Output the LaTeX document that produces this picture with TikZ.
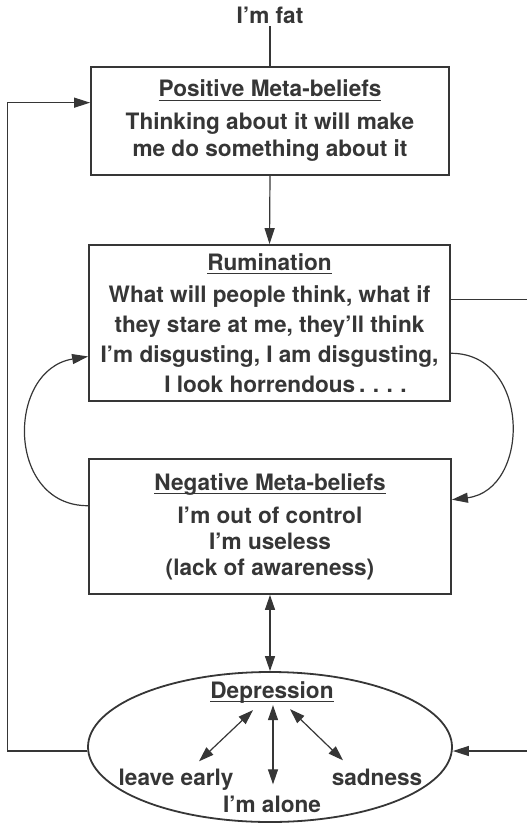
\documentclass[tikz,border=0pt]{standalone}
\usepackage{fontspec}
\setmainfont{TeX Gyre Heros}
\usetikzlibrary{arrows.meta,shapes.geometric,calc}
\definecolor{ink}{HTML}{363636}
% underlined heading: fixed-depth rule under the text
\newlength{\ulinewd}
\newcommand{\ulhead}[1]{\settowidth{\ulinewd}{#1}\rlap{\rule[-3.8pt]{\ulinewd}{1.1pt}}#1}
\begin{document}
\begin{tikzpicture}[x=1pt,y=-1pt,
  every node/.style={text=ink,font=\bfseries\fontsize{22.6}{27}\selectfont},
  box/.style={draw=ink,line width=1.8pt,rectangle,inner sep=0pt,align=center},
  label/.style={inner sep=2pt,anchor=base},
  link/.style={draw=ink,line width=1.2pt},
  tip/.style={-{Triangle[length=16pt,width=10pt]}},
  dbl/.style={{Triangle[length=15pt,width=10pt]}-{Triangle[length=15pt,width=10pt]}}
]
\useasboundingbox (0,0) rectangle (527,824);
\clip (0,0) rectangle (527,824);

% trigger
\node[label] (fat) at (270,24) {I’m fat};

% boxes
\node[box,minimum width=358pt,minimum height=108pt] (P) at (270,121)
  {\ulhead{Positive Meta-beliefs}\\[6pt]
   Thinking about it will make\\
   me do something about it};

\node[box,minimum width=361pt,minimum height=156pt,
      font=\bfseries\fontsize{22.6}{30}\selectfont] (R) at (269.5,323)
  {\ulhead{Rumination}\\[2pt]
   What will people think, what if\\
   they stare at me, they’ll think\\
   I’m disgusting, I am disgusting,\\
   \hspace*{32pt}I look horrendous\,.\,\,.\,\,.\,\,.};

\node[box,minimum width=362pt,minimum height=135pt,
      font=\bfseries\fontsize{22.6}{26}\selectfont] (N) at (270,526.5)
  {\ulhead{Negative Meta-beliefs}\\[7pt]
   I’m out of control\\
   I’m useless\\
   (lack of awareness)};

% depression ellipse and its contents
\node[draw=ink,line width=1.8pt,ellipse,minimum width=364pt,minimum height=150pt,inner sep=0pt] (D) at (270,747) {};
\node[label] (dep) at (272,698) {\ulhead{Depression}};
\node[label] (le) at (176,785) {leave early};
\node[label] (sad) at (377,785) {sadness};
\node[label] (alone) at (272,812) {I’m alone};

% anchor points on box sides
\coordinate (rOut) at ($(R.north east)!0.353!(R.south east)$);
\coordinate (rLoopOut) at ($(R.north east)!0.692!(R.south east)$);
\coordinate (rLoopIn) at ($(R.north west)!0.712!(R.south west)$);
\coordinate (nIn) at ($(N.north east)!0.304!(N.south east)$);
\coordinate (nOut) at ($(N.north west)!0.348!(N.south west)$);
\coordinate (pIn) at ($(P.north west)!0.333!(P.south west)$);
\coordinate (dE) at ([yshift=-4pt]D.east);
\coordinate (dW) at ([yshift=-4pt]D.west);

% main flow
\draw[link] (fat.south) -- (P.north);
\draw[link,tip] (P.south) -- (R.north);
\draw[link,dbl] (N.south) -- (D.north);

% rumination / negative meta-beliefs loop
\draw[link,tip] (rLoopOut) .. controls (531,353) and (531,490) .. (nIn);
\draw[link,tip] (nOut) .. controls (6,506) and (6,370) .. (rLoopIn);

% outer feedback paths
\draw[link,tip] (rOut) -- ++(90,0) |- (dE);
\draw[link,tip] (dW) -- ++(-80,0) |- (pIn);

% depression links
\draw[link,dbl] ([xshift=-19pt,yshift=-5pt]dep.south) -- ([xshift=23pt,yshift=5pt]le.north);
\draw[link,dbl] ([xshift=1pt]dep.south) -- ([xshift=1pt,yshift=9pt]alone.north);
\draw[link,dbl] ([xshift=18pt,yshift=-4pt]dep.south) -- ([xshift=-34pt,yshift=6pt]sad.north);
\end{tikzpicture}
\end{document}
